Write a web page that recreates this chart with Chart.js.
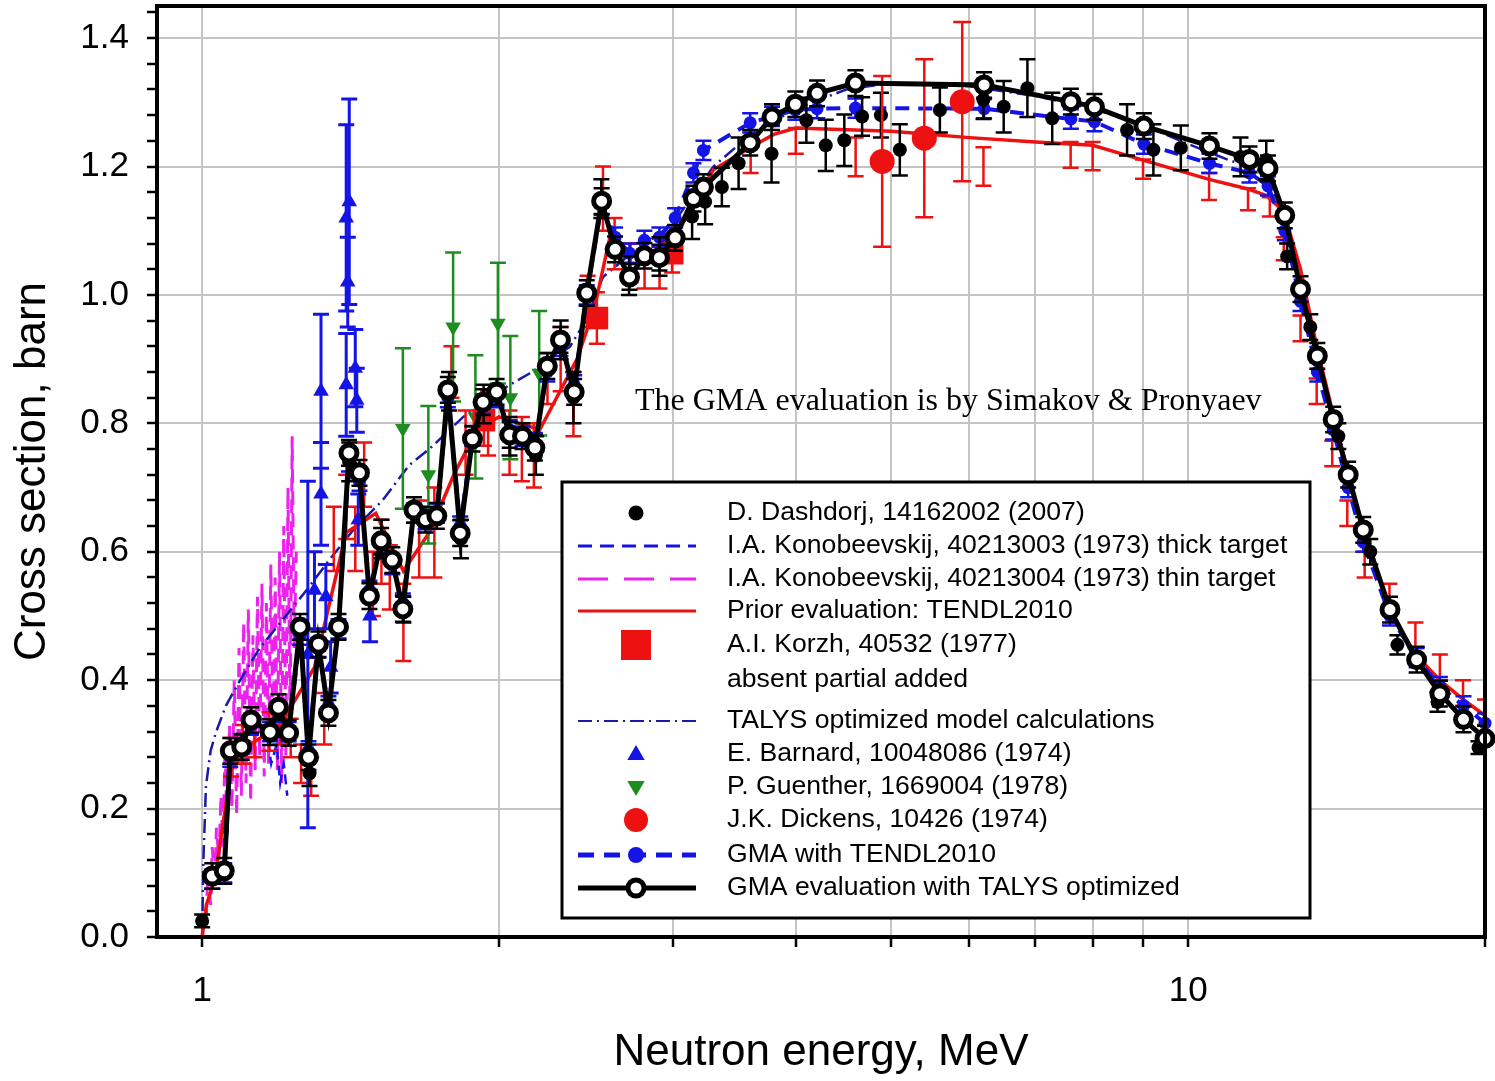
<!DOCTYPE html>
<html>
<head>
<meta charset="utf-8">
<title>Cross section vs neutron energy</title>
<script src="https://cdn.jsdelivr.net/npm/chart.js@4.4.1/dist/chart.umd.min.js"></script>
<style>
  html, body { margin: 0; padding: 0; background: #fff; }
  #box { width: 1495px; height: 1081px; }
</style>
</head>
<body>
<div id="box"><canvas id="xsChart" width="1495" height="1081"></canvas></div>
<script>
// ==========================================
// DATA (energy in MeV, cross section in barn)
// ==========================================

// GMA evaluations share one energy grid
const gmaE = [1.024, 1.053, 1.068, 1.097, 1.121, 1.172, 1.195, 1.224, 1.257, 1.282, 1.312, 1.343, 1.375, 1.409, 1.444,
  1.478, 1.519, 1.559, 1.598, 1.640, 1.685, 1.730, 1.775, 1.827, 1.880, 1.927, 1.989, 2.051, 2.113, 2.175, 2.239,
  2.309, 2.384, 2.455, 2.542, 2.623, 2.713, 2.809, 2.909, 3.018, 3.150, 3.224, 3.596, 3.784, 3.996, 4.204, 4.598,
  6.209, 7.604, 8.034, 9.017, 10.51, 11.54, 12.05, 12.53, 13.00, 13.52, 14.03, 14.53, 15.05, 16.02, 17.05, 18.00,
  19.02, 20.00];
const gmaTalys = [0.095, 0.103, 0.290, 0.296, 0.338, 0.319, 0.358, 0.318, 0.483, 0.280, 0.456, 0.349, 0.483, 0.754, 0.723,
  0.531, 0.617, 0.587, 0.511, 0.665, 0.650, 0.656, 0.852, 0.629, 0.776, 0.833, 0.849, 0.782, 0.780, 0.762, 0.889,
  0.930, 0.849, 1.003, 1.146, 1.071, 1.028, 1.061, 1.058, 1.089, 1.150, 1.168, 1.237, 1.277, 1.297, 1.314, 1.330,
  1.327, 1.301, 1.293, 1.263, 1.232, 1.211, 1.197, 1.124, 1.009, 0.905, 0.806, 0.720, 0.634, 0.510, 0.432, 0.379,
  0.339, 0.309];
const gmaTendl = [0.09, 0.10, 0.28, 0.30, 0.33, 0.32, 0.35, 0.32, 0.47, 0.29, 0.45, 0.36, 0.48, 0.74, 0.71,
  0.54, 0.61, 0.58, 0.52, 0.66, 0.65, 0.66, 0.84, 0.64, 0.78, 0.83, 0.84, 0.79, 0.78, 0.77, 0.88,
  0.92, 0.86, 1.00, 1.14, 1.09, 1.065, 1.085, 1.09, 1.12, 1.19, 1.225, 1.268, 1.278, 1.288, 1.290, 1.291,
  1.290, 1.274, 1.270, 1.235, 1.205, 1.190, 1.170, 1.100, 0.990, 0.880, 0.790, 0.700, 0.615, 0.500, 0.435, 0.390,
  0.360, 0.333];
const GMA_TALYS_ERR = 0.02;
const GMA_TENDL_ERR = 0.015;

// Prior evaluation TENDL2010
const tendlE = [1.0, 1.01, 1.03, 1.07, 1.12, 1.2, 1.3, 1.4, 1.5, 1.6, 1.7, 1.8, 1.9, 2.0, 2.2, 2.4, 2.5, 2.6, 2.7, 2.9,
  3.1, 3.3, 3.6, 3.8, 4.0, 5.0, 6.0, 7.0, 8.0, 9.0, 10.5, 11.5, 12.0, 12.5, 13.0, 13.5, 14.0, 15.0, 16.0, 17.0,
  18.0, 19.0, 20.0];
const tendlXs = [0.0, 0.05, 0.09, 0.26, 0.30, 0.33, 0.42, 0.63, 0.66, 0.57, 0.63, 0.72, 0.79, 0.81, 0.79, 0.90, 0.98, 1.10, 1.06, 1.07,
  1.12, 1.195, 1.23, 1.25, 1.26, 1.255, 1.245, 1.238, 1.233, 1.21, 1.18, 1.165, 1.155, 1.13, 1.04, 0.92, 0.82, 0.64, 0.51, 0.44,
  0.40, 0.37, 0.345];

// TALYS optimized model calculations
const talysE = [1.0, 1.003, 1.009, 1.02, 1.033, 1.057, 1.09, 1.143, 1.207, 1.279, 1.35, 1.42, 1.524, 1.622, 1.70, 1.84,
  2.0, 2.15, 2.36, 2.45, 2.55, 2.7, 3.0, 3.3, 3.6, 4.0, 4.5, 5.0, 6.0, 7.0, 8.0, 9.0, 10.0, 11.0, 12.0, 12.5,
  13.0, 14.0, 15.0, 16.0, 17.0, 18.0, 19.0, 20.0];
const talysXs = [0.0, 0.12, 0.235, 0.29, 0.319, 0.36, 0.397, 0.449, 0.494, 0.542, 0.59, 0.632, 0.68, 0.735, 0.76, 0.81,
  0.85, 0.878, 0.919, 0.96, 1.028, 1.06, 1.11, 1.20, 1.25, 1.29, 1.32, 1.33, 1.325, 1.31, 1.29, 1.265, 1.235, 1.21, 1.19, 1.12,
  1.01, 0.81, 0.64, 0.51, 0.43, 0.38, 0.34, 0.31];

// D. Dashdorj
const dashE = [1.0, 1.285, 1.41, 1.52, 1.60, 1.78, 1.83, 1.93, 2.05, 2.18, 2.31, 2.38, 2.54, 2.71, 2.91, 3.14, 3.237,
  3.366, 3.50, 3.78, 4.10, 4.29, 4.48, 4.67, 4.88, 5.10, 5.60, 6.20, 6.50, 6.87, 7.28, 8.67, 9.22, 9.83, 11.3, 12.0,
  12.6, 13.3, 14.2, 15.3, 16.3, 17.9, 19.7];
const dashXs = [0.025, 0.255, 0.74, 0.62, 0.51, 0.85, 0.62, 0.83, 0.78, 0.75, 0.93, 0.84, 1.15, 1.03, 1.06, 1.122, 1.145,
  1.168, 1.205, 1.22, 1.272, 1.233, 1.241, 1.278, 1.28, 1.226, 1.288, 1.304, 1.293, 1.322, 1.275, 1.257, 1.226, 1.229, 1.215, 1.21,
  1.06, 0.95, 0.78, 0.60, 0.455, 0.366, 0.295];
const dashErr = [0.01, 0.02, 0.03, 0.03, 0.02, 0.03, 0.03, 0.03, 0.03, 0.03, 0.03, 0.04, 0.03, 0.03, 0.03, 0.035, 0.035,
  0.03, 0.04, 0.045, 0.035, 0.04, 0.04, 0.03, 0.035, 0.04, 0.035, 0.03, 0.04, 0.045, 0.04, 0.04, 0.04, 0.035, 0.03, 0.03,
  0.02, 0.02, 0.02, 0.02, 0.015, 0.015, 0.01];

// J.K. Dickens
const dickensE = [4.894, 5.40, 5.90];
const dickensXs = [1.208, 1.244, 1.301];
const dickensErr = [0.133, 0.123, 0.124];

// A.I. Korzh
const korzhE = [1.931, 2.514, 2.997];
const korzhXs = [0.805, 0.964, 1.065];
const korzhErr = [0.04, 0.04, 0.03];

// absent partial added (error bars only)
const partialE = [1.07, 1.10, 1.13, 1.17, 1.20, 1.23, 1.26, 1.29, 1.33, 1.36, 1.40, 1.43, 1.46, 1.49, 1.52, 1.55, 1.60,
  1.66, 1.72, 1.79, 1.85, 1.95, 2.05, 2.11, 2.17, 2.24, 2.31, 2.38, 2.46, 2.55, 2.62, 2.72, 2.81, 2.91, 3.6, 4.0, 4.6,
  6.2, 7.6, 8.0, 9.0, 10.5, 11.5, 12.1, 12.5, 13.0, 13.5, 14.0, 14.5, 15.1, 16.0, 17.0, 18.0, 19.0, 20.0];
const partialXs = [0.28, 0.30, 0.31, 0.32, 0.33, 0.31, 0.27, 0.25, 0.34, 0.62, 0.67, 0.62, 0.72, 0.55, 0.60, 0.56, 0.49,
  0.62, 0.63, 0.88, 0.77, 0.80, 0.77, 0.76, 0.75, 0.87, 0.90, 0.83, 0.99, 1.15, 1.08, 1.05, 1.04, 1.04, 1.21, 1.24, 1.215,
  1.20, 1.218, 1.216, 1.196, 1.169, 1.149, 1.137, 1.072, 0.948, 0.85, 0.753, 0.66, 0.58, 0.53, 0.47, 0.42, 0.38, 0.35];
const partialErr = [0.03, 0.03, 0.03, 0.03, 0.03, 0.03, 0.03, 0.03, 0.04, 0.05, 0.05, 0.05, 0.05, 0.05, 0.05, 0.05, 0.06,
  0.06, 0.07, 0.04, 0.05, 0.05, 0.05, 0.05, 0.05, 0.04, 0.05, 0.05, 0.04, 0.05, 0.04, 0.03, 0.03, 0.03, 0.02, 0.02, 0.03,
  0.03, 0.02, 0.022, 0.015, 0.021, 0.017, 0.015, 0.018, 0.02, 0.02, 0.02, 0.02, 0.02, 0.02, 0.02, 0.02, 0.02, 0.02];

// P. Guenther
const guentherE = [1.598, 1.696, 1.797, 1.893, 1.995, 2.054, 2.197];
const guentherXs = [0.792, 0.72, 0.95, 0.81, 0.956, 0.84, 0.878];
const guentherErr = [0.125, 0.107, 0.116, 0.096, 0.094, 0.096, 0.097];

// E. Barnard
const barnardE = [1.28, 1.30, 1.32, 1.32, 1.335, 1.35, 1.40, 1.405, 1.40, 1.41, 1.43, 1.435, 1.44, 1.48];
const barnardXs = [0.44, 0.54, 0.85, 0.69, 0.53, 0.42, 0.86, 1.02, 1.12, 1.145, 0.886, 0.836, 0.65, 0.50];
const barnardErr = [0.27, 0.06, 0.12, 0.08, 0.05, 0.04, 0.08, 0.07, 0.145, 0.16, 0.06, 0.05, 0.04, 0.04];

// I.A. Konobeevskij thick / thin target
const thickE = [1.16, 1.175, 1.19, 1.20, 1.21, 1.22];
const thickXs = [0.33, 0.27, 0.30, 0.24, 0.27, 0.22];
const thinE = [1.01, 1.013, 1.02, 1.024, 1.03, 1.034, 1.04, 1.045, 1.05, 1.055, 1.06, 1.066, 1.072, 1.078, 1.084,
  1.09, 1.096, 1.102, 1.108, 1.114, 1.12, 1.126, 1.132, 1.138, 1.144, 1.15, 1.156, 1.162, 1.168, 1.174, 1.18,
  1.186, 1.192, 1.198, 1.204, 1.21, 1.216, 1.222, 1.228, 1.234, 1.24, 1.246];
const thinXs = [0.03, 0.10, 0.05, 0.14, 0.08, 0.17, 0.12, 0.22, 0.14, 0.30, 0.16, 0.33, 0.20, 0.40, 0.19,
  0.45, 0.22, 0.49, 0.24, 0.51, 0.21, 0.47, 0.26, 0.53, 0.28, 0.55, 0.25, 0.52, 0.27, 0.58, 0.30,
  0.56, 0.26, 0.60, 0.24, 0.64, 0.28, 0.70, 0.32, 0.78, 0.45, 0.60];

// axis ticks
const xTickValues = [1, 2, 3, 4, 5, 6, 7, 8, 9, 10, 20];
const xTickLabels = [1, 10];
const yTickValues = [0, 0.04, 0.08, 0.12, 0.16, 0.2, 0.24, 0.28, 0.32, 0.36, 0.4, 0.44, 0.48, 0.52, 0.56, 0.6,
  0.64, 0.68, 0.72, 0.76, 0.8, 0.84, 0.88, 0.92, 0.96, 1.0, 1.04, 1.08, 1.12, 1.16, 1.2, 1.24, 1.28, 1.32, 1.36,
  1.4, 1.44];
const yTickLabels = [0, 0.2, 0.4, 0.6, 0.8, 1.0, 1.2, 1.4];

const legendLabels = [
  'D. Dashdorj, 14162002 (2007)',
  'I.A. Konobeevskij, 40213003 (1973) thick target',
  'I.A. Konobeevskij, 40213004 (1973) thin target',
  'Prior evaluation: TENDL2010',
  'A.I. Korzh, 40532 (1977)',
  'absent partial added',
  'TALYS optimized model calculations',
  'E. Barnard, 10048086 (1974)',
  'P. Guenther, 1669004 (1978)',
  'J.K. Dickens, 10426 (1974)',
  'GMA with TENDL2010',
  'GMA evaluation with TALYS optimized'
];
const noteText = 'The GMA evaluation is by Simakov & Pronyaev';

// ==========================================
// colours
// ==========================================
const RED = '#ee1111';
const BLUE = '#1414e6';
const NAVY = '#1a1aa8';
const GREEN = '#1e8c1e';
const MAGENTA = '#ee22ee';
const GRID = '#c4c4c4';
const SANS = "'Liberation Sans', Arial, sans-serif";

function pts(xs, ys, errs) {
  return xs.map((x, i) => ({ x: x, y: ys[i], err: Array.isArray(errs) ? errs[i] : (errs || 0) }));
}

// no extra room for the edge labels: the plot frame is fixed
function noScalePadding(s) {
  s.paddingTop = 0;
  s.paddingBottom = 0;
  s.paddingLeft = 0;
  s.paddingRight = 0;
}

// error bars, drawn right before each dataset so the layering stays right
const errorBars = {
  id: 'errorBars',
  beforeDatasetDraw(chart, args) {
    const ds = chart.data.datasets[args.index];
    if (!ds.errColor) return;
    const { ctx, chartArea, scales: { x, y } } = chart;
    const cap = ds.capHalf || 8;
    ctx.save();
    ctx.beginPath();
    ctx.rect(chartArea.left, chartArea.top, chartArea.right - chartArea.left, chartArea.bottom - chartArea.top);
    ctx.clip();
    ctx.strokeStyle = ds.errColor;
    ctx.lineWidth = ds.errWidth || 2.5;
    ctx.beginPath();
    ds.data.forEach(p => {
      if (!p.err) return;
      const px = x.getPixelForValue(p.x);
      const top = y.getPixelForValue(p.y + p.err);
      const bot = y.getPixelForValue(p.y - p.err);
      ctx.moveTo(px, top); ctx.lineTo(px, bot);
      ctx.moveTo(px - cap, top); ctx.lineTo(px + cap, top);
      ctx.moveTo(px - cap, bot); ctx.lineTo(px + cap, bot);
    });
    ctx.stroke();
    ctx.restore();
  }
};

// frame around plot + the note text
const frameAndNote = {
  id: 'frameAndNote',
  afterDatasetsDraw(chart) {
    const { ctx, chartArea: a } = chart;
    ctx.save();
    ctx.strokeStyle = '#000';
    ctx.lineWidth = 4;
    ctx.strokeRect(a.left, a.top, a.right - a.left, a.bottom - a.top);
    ctx.fillStyle = '#000';
    ctx.font = "32px 'Liberation Serif', 'Times New Roman', serif";
    ctx.textBaseline = 'middle';
    ctx.textAlign = 'left';
    ctx.fillText(noteText, 635, 402);
    ctx.restore();
  }
};

function legendLine(ctx, y, color, width, dash) {
  ctx.save();
  ctx.strokeStyle = color;
  ctx.lineWidth = width;
  ctx.setLineDash(dash);
  ctx.beginPath();
  ctx.moveTo(578, y);
  ctx.lineTo(696, y);
  ctx.stroke();
  ctx.restore();
}
function legendDot(ctx, x, y, r, fill, stroke, lw) {
  ctx.save();
  ctx.beginPath();
  ctx.arc(x, y, r, 0, Math.PI * 2);
  ctx.fillStyle = fill;
  ctx.fill();
  if (stroke) { ctx.strokeStyle = stroke; ctx.lineWidth = lw; ctx.stroke(); }
  ctx.restore();
}
function legendTri(ctx, x, y, r, color, down) {
  const s = down ? -1 : 1;
  ctx.save();
  ctx.fillStyle = color;
  ctx.beginPath();
  ctx.moveTo(x, y - s * r);
  ctx.lineTo(x + r * 0.87, y + s * r * 0.5);
  ctx.lineTo(x - r * 0.87, y + s * r * 0.5);
  ctx.closePath();
  ctx.fill();
  ctx.restore();
}

const boxLegend = {
  id: 'boxLegend',
  afterDraw(chart) {
    const ctx = chart.ctx;
    const rowY = [513, 546, 579, 611, 645, 680, 721, 754, 787, 820, 855, 888];
    const cx = 636;
    ctx.save();
    ctx.fillStyle = '#fff';
    ctx.fillRect(562, 482, 748, 436);
    ctx.strokeStyle = '#000';
    ctx.lineWidth = 3;
    ctx.strokeRect(562, 482, 748, 436);

    legendDot(ctx, cx, rowY[0], 7.5, '#000');
    legendLine(ctx, rowY[1], BLUE, 3, [14, 8]);
    legendLine(ctx, rowY[2], MAGENTA, 3, [30, 16]);
    legendLine(ctx, rowY[3], RED, 3, []);
    ctx.fillStyle = RED;
    ctx.fillRect(cx - 15, rowY[4] - 15, 30, 30);
    legendLine(ctx, rowY[6], NAVY, 2, [14, 5, 2, 5]);
    legendTri(ctx, cx, rowY[7] + 1, 10, BLUE, false);
    legendTri(ctx, cx, rowY[8] - 1, 10, GREEN, true);
    legendDot(ctx, cx, rowY[9], 12, RED);
    legendLine(ctx, rowY[10], BLUE, 5, [16, 10]);
    legendDot(ctx, cx, rowY[10], 8, BLUE);
    legendLine(ctx, rowY[11], '#000', 5, []);
    legendDot(ctx, cx, rowY[11], 8, '#fff', '#000', 5);

    ctx.fillStyle = '#000';
    ctx.font = '26.6px ' + SANS;
    ctx.textBaseline = 'middle';
    ctx.textAlign = 'left';
    legendLabels.forEach((t, i) => ctx.fillText(t, 727, rowY[i]));
    ctx.restore();
  }
};

const isLabelledY = v => yTickLabels.some(t => Math.abs(t - v) < 1e-9);

const datasets = [
  {
    label: legendLabels[11], data: pts(gmaE, gmaTalys, GMA_TALYS_ERR), showLine: true,
    borderColor: '#000', borderWidth: 5, pointRadius: 8, pointBorderWidth: 5,
    pointBackgroundColor: '#fff', pointBorderColor: '#000', errColor: '#000', clip: false
  },
  {
    label: legendLabels[9], data: pts(dickensE, dickensXs, dickensErr), showLine: false,
    pointRadius: 12.5, pointBackgroundColor: RED, pointBorderColor: RED, pointBorderWidth: 0,
    errColor: RED, capHalf: 9
  },
  {
    label: legendLabels[0], data: pts(dashE, dashXs, dashErr), showLine: false,
    pointRadius: 7, pointBackgroundColor: '#000', pointBorderColor: '#000', pointBorderWidth: 0,
    errColor: '#000', clip: false
  },
  {
    label: legendLabels[10], data: pts(gmaE, gmaTendl, GMA_TENDL_ERR), showLine: true,
    borderColor: BLUE, borderWidth: 4, borderDash: [14, 9], pointRadius: 6.5,
    pointBackgroundColor: BLUE, pointBorderColor: BLUE, pointBorderWidth: 0, errColor: BLUE, clip: false
  },
  {
    label: legendLabels[4], data: pts(korzhE, korzhXs, korzhErr), showLine: false,
    pointStyle: 'rect', pointRadius: 16, pointBackgroundColor: RED, pointBorderColor: RED,
    pointBorderWidth: 0, errColor: RED
  },
  {
    label: legendLabels[8], data: pts(guentherE, guentherXs, guentherErr), showLine: false,
    pointStyle: 'triangle', rotation: 180, pointRadius: 9, pointBackgroundColor: GREEN,
    pointBorderColor: GREEN, pointBorderWidth: 0, errColor: GREEN, capHalf: 8
  },
  {
    label: legendLabels[7], data: pts(barnardE, barnardXs, barnardErr), showLine: false,
    pointStyle: 'triangle', pointRadius: 9, pointBackgroundColor: BLUE, pointBorderColor: BLUE,
    pointBorderWidth: 0, errColor: BLUE, errWidth: 3
  },
  {
    label: legendLabels[3], data: pts(tendlE, tendlXs), showLine: true,
    borderColor: RED, borderWidth: 3.5, pointRadius: 0
  },
  {
    label: legendLabels[5], data: pts(partialE, partialXs, partialErr), showLine: false,
    pointRadius: 0, errColor: RED, capHalf: 8
  },
  {
    label: legendLabels[6], data: pts(talysE, talysXs), showLine: true,
    borderColor: NAVY, borderWidth: 2.5, borderDash: [14, 5, 2, 5], pointRadius: 0
  },
  {
    label: legendLabels[1], data: pts(thickE, thickXs), showLine: true,
    borderColor: BLUE, borderWidth: 2.5, borderDash: [10, 6], pointRadius: 0
  },
  {
    label: legendLabels[2], data: pts(thinE, thinXs), showLine: true,
    borderColor: MAGENTA, borderWidth: 3, borderDash: [14, 8], pointRadius: 0
  }
];

new Chart(document.getElementById('xsChart'), {
  type: 'scatter',
  data: { datasets: datasets },
  plugins: [errorBars, frameAndNote, boxLegend],
  options: {
    responsive: false,
    animation: false,
    events: [],
    devicePixelRatio: 1,
    layout: { autoPadding: false, padding: { left: 0, right: 10, top: 6, bottom: 0 } },
    elements: { line: { tension: 0 } },
    plugins: {
      legend: { display: false },
      tooltip: { enabled: false }
    },
    scales: {
      x: {
        type: 'logarithmic',
        min: 0.9,
        max: 20,
        afterFit: s => { s.height = 144; noScalePadding(s); },
        afterBuildTicks: s => { s.ticks = xTickValues.map(v => ({ value: v })); },
        border: { display: false },
        grid: {
          color: c => (c.tick && c.tick.value <= 10 ? GRID : 'rgba(0,0,0,0)'),
          lineWidth: 2,
          drawTicks: true,
          tickLength: 10,
          tickWidth: 2.5,
          tickColor: '#000'
        },
        ticks: {
          autoSkip: false,
          maxRotation: 0,
          minRotation: 0,
          padding: 23,
          color: '#000',
          font: { family: SANS, size: 35 },
          callback: v => (xTickLabels.includes(v) ? String(v) : '')
        },
        title: {
          display: true,
          text: 'Neutron energy, MeV',
          color: '#000',
          font: { family: SANS, size: 44 },
          padding: { top: 0, bottom: 2 }
        }
      },
      y: {
        type: 'linear',
        min: 0,
        max: 1.45,
        afterFit: s => { s.width = 157; noScalePadding(s); },
        afterBuildTicks: s => { s.ticks = yTickValues.map(v => ({ value: v })); },
        border: { display: false },
        grid: {
          color: c => (c.tick && c.tick.value > 0 && isLabelledY(c.tick.value) ? GRID : 'rgba(0,0,0,0)'),
          lineWidth: 2,
          drawTicks: true,
          tickLength: 10,
          tickWidth: 2.5,
          tickColor: '#000'
        },
        ticks: {
          autoSkip: false,
          padding: 18,
          color: '#000',
          font: { family: SANS, size: 35 },
          callback: v => (isLabelledY(v) ? v.toFixed(1) : '')
        },
        title: {
          display: true,
          text: 'Cross section, barn',
          color: '#000',
          font: { family: SANS, size: 44 },
          padding: { top: 6, bottom: 0 }
        }
      }
    }
  }
});
</script>
</body>
</html>
